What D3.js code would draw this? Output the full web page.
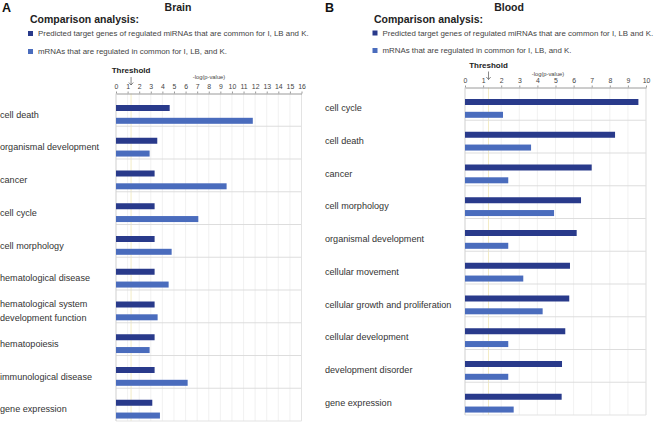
<!DOCTYPE html>
<html><head><meta charset="utf-8">
<script src="https://cdn.jsdelivr.net/npm/d3@7"></script>
<style>
html,body{margin:0;padding:0;background:#fff;}
svg{display:block;font-family:"Liberation Sans",Arial,Helvetica,sans-serif;}
</style></head>
<body>
<svg id="chart" width="656" height="422"></svg>
<script>
// ---- data ----
const brainCategories = ["cell death","organismal development","cancer","cell cycle","cell morphology","hematological disease","hematological system\ndevelopment function","hematopoiesis","immunological disease","gene expression"];
const brainMirna = [4.63, 3.56, 3.33, 3.33, 3.33, 3.33, 3.33, 3.33, 3.33, 3.13];
const brainMrna  = [11.8, 2.9, 9.54, 7.1, 4.8, 4.54, 3.59, 2.9, 6.18, 3.79];
const brainTicks = [0,1,2,3,4,5,6,7,8,9,10,11,12,13,14,15,16];

const bloodCategories = ["cell cycle","cell death","cancer","cell morphology","organismal development","cellular movement","cellular growth and proliferation","cellular development","development disorder","gene expression"];
const bloodMirna = [9.58, 8.29, 7.0, 6.41, 6.17, 5.8, 5.76, 5.54, 5.36, 5.34];
const bloodMrna  = [2.1, 3.65, 2.39, 4.92, 2.39, 3.22, 4.29, 2.39, 2.39, 2.69];
const bloodTicks = [0,1,2,3,4,5,6,7,8,9,10];

const threshold = 1.3;
const legendLabels = ["Predicted target genes of regulated miRNAs that are common for I, LB and K.","mRNAs that are regulated in common for I, LB, and K."];
const axisTitle = "-log(p-value)";

// ---- drawing ----
const DARK = "#293a8b", LIGHT = "#4a6cbd";
const svg = d3.select("#chart");

function panel(o){
  const g = svg.append("g");
  g.append("text").attr("x", o.letterX).attr("y", 12).attr("font-size", 12.5).attr("font-weight", "bold").attr("fill", "#111").text(o.letter);
  g.append("text").attr("x", o.titleX).attr("y", 11).attr("text-anchor", "middle").attr("font-size", 10.5).attr("font-weight", "bold").attr("fill", "#222").text(o.title);
  g.append("text").attr("x", o.compX).attr("y", 23).attr("font-size", 10.5).attr("font-weight", "bold").attr("fill", "#222").text("Comparison analysis:");
  const colors = [DARK, LIGHT];
  legendLabels.forEach((t,i)=>{
    const yy = o.legY[i];
    g.append("rect").attr("x", o.legX).attr("y", yy-2.5).attr("width", 5).attr("height", 5).attr("fill", colors[i]);
    g.append("text").attr("x", o.legX+10).attr("y", yy+2.8).attr("font-size", 7.9).attr("fill", "#444").text(t);
  });

  const x = d3.scaleLinear().domain([o.ticks[0], o.ticks[o.ticks.length-1]]).range([o.x0, o.x1]);
  const y = d3.scaleBand().domain(o.categories).range([o.top, o.bottom]).padding(0);

  g.append("g").selectAll("line").data(o.ticks.slice(1)).join("line")
    .attr("x1", d=>x(d)).attr("x2", d=>x(d)).attr("y1", o.top).attr("y2", o.bottom)
    .attr("stroke", "#eeeeee").attr("stroke-width", 0.8);
  g.append("line").attr("x1", x(threshold)).attr("x2", x(threshold)).attr("y1", o.top).attr("y2", o.bottom)
    .attr("stroke", "#f3ecc6").attr("stroke-width", 1);
  g.append("g").selectAll("line").data(o.categories.slice(1)).join("line")
    .attr("x1", o.x0).attr("x2", o.x1).attr("y1", d=>y(d)).attr("y2", d=>y(d))
    .attr("stroke", "#d9d9d9").attr("stroke-width", 0.9);
  g.append("line").attr("x1", o.x0).attr("x2", o.x1).attr("y1", o.bottom).attr("y2", o.bottom).attr("stroke", "#e3e3e3");
  g.append("line").attr("x1", o.x0).attr("x2", o.x0).attr("y1", o.top).attr("y2", o.bottom).attr("stroke", "#cfcfcf");
  g.append("line").attr("x1", o.x1).attr("x2", o.x1).attr("y1", o.top).attr("y2", o.bottom).attr("stroke", "#e3e3e3");

  g.append("g").selectAll("rect").data(o.categories).join("rect")
    .attr("x", x(0)).attr("y", d=>y(d)+11.5).attr("height", 6)
    .attr("width", (d,i)=>x(o.mirna[i])-x(0)).attr("fill", DARK);
  g.append("g").selectAll("rect").data(o.categories).join("rect")
    .attr("x", x(0)).attr("y", d=>y(d)+24.3).attr("height", 6)
    .attr("width", (d,i)=>x(o.mrna[i])-x(0)).attr("fill", LIGHT);

  const ax = g.append("g").attr("transform", `translate(0,${o.top})`)
    .call(d3.axisTop(x).tickValues(o.ticks).tickFormat(d3.format("d")).tickSize(2).tickPadding(o.tickPad).tickSizeOuter(0));
  ax.select(".domain").attr("stroke", "#9a9a9a").attr("stroke-width", 1);
  ax.selectAll(".tick line").attr("stroke", "#9a9a9a");
  ax.selectAll(".tick text").attr("font-size", 6.9).attr("fill", "#444").attr("font-family", "'Liberation Sans',Arial,sans-serif");

  g.append("text").attr("x", o.axTitleX).attr("y", o.top - o.axTitleOff).attr("text-anchor", "middle")
    .attr("font-size", 5.8).attr("fill", "#444").text(axisTitle);
  g.append("text").attr("x", x(threshold)).attr("y", o.thrY).attr("text-anchor", "middle")
    .attr("font-size", 8).attr("font-weight", "bold").attr("fill", "#222").text("Threshold");
  const ax0 = x(threshold), ay = o.thrY + 4;
  g.append("path").attr("d", `M${ax0},${ay} V${ay+8} M${ax0-2.2},${ay+5.5} L${ax0},${ay+8} L${ax0+2.2},${ay+5.5}`)
    .attr("fill", "none").attr("stroke", "#555").attr("stroke-width", 0.7);

  o.categories.forEach(c=>{
    const lines = c.split("\n");
    const cy = y(c) + o.labOff;
    const t = g.append("text").attr("x", o.labX).attr("font-size", 9.1).attr("fill", "#333");
    lines.forEach((ln,i)=>{
      t.append("tspan").attr("x", o.labX).attr("y", cy + (i - (lines.length-1)/2)*13.5 + 3.2).text(ln);
    });
  });
}

panel({letter:"A", letterX:2, title:"Brain", titleX:178, compX:30, legX:28, legY:[33.5,51.5],
  categories:brainCategories, mirna:brainMirna, mrna:brainMrna, ticks:brainTicks,
  x0:116, x1:301.5, top:93.5, bottom:421, tickPad:3, axTitleX:209, axTitleOff:14.5, thrY:73,
  labX:0, labOff:21});
panel({letter:"B", letterX:325, title:"Blood", titleX:509, compX:374, legX:372.5, legY:[33,50.5],
  categories:bloodCategories, mirna:bloodMirna, mrna:bloodMrna, ticks:bloodTicks,
  x0:465, x1:646, top:87.5, bottom:415, tickPad:2.5, axTitleX:548, axTitleOff:11.5, thrY:67.5,
  labX:325, labOff:20.5});
</script>
</body></html>
